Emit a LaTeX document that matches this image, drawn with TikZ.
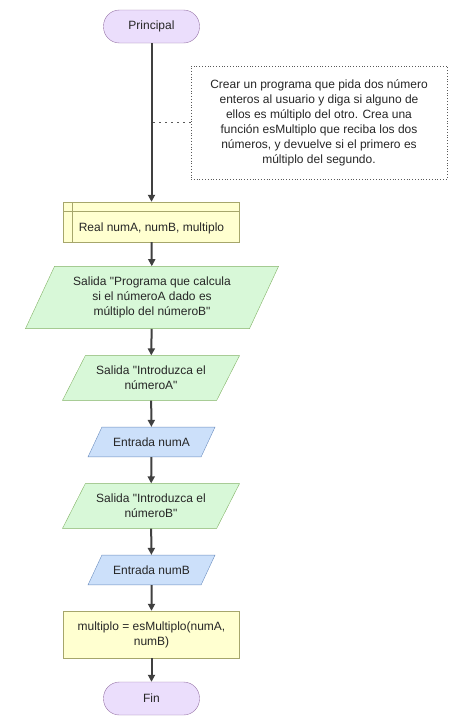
\documentclass[tikz,border=0pt]{standalone}
\usepackage{fontspec}
\setmainfont{Liberation Sans}
\usetikzlibrary{shapes.geometric,arrows.meta}
\definecolor{termfill}{HTML}{EBDEFC}
\definecolor{termline}{HTML}{9673A6}
\definecolor{outfill}{HTML}{D8F8D8}
\definecolor{outline}{HTML}{82B366}
\definecolor{infill}{HTML}{CCE0FA}
\definecolor{inline}{HTML}{6C8EBF}
\definecolor{procfill}{HTML}{FFFFD0}
\definecolor{procline}{HTML}{A6A66B}
\definecolor{flowline}{HTML}{404040}
\begin{document}
\begin{tikzpicture}[x=1pt, y=-1pt,
		every node/.style={font=\fontsize{12}{15}\selectfont, text=black!85, align=center, inner sep=0pt},
		term/.style={draw=termline, fill=termfill, rounded corners=16pt, minimum width=96pt, minimum height=33pt},
		proc/.style={draw=procline, fill=procfill, minimum width=176pt},
		iobox/.style={trapezium, trapezium left angle=#1, trapezium right angle=180-#1, trapezium stretches body=true, inner xsep=0pt, inner ysep=10.5pt},
		outbox/.style={iobox=#1, draw=outline, fill=outfill},
		inbox/.style={iobox=#1, draw=inline, fill=infill},
		flow/.style={->, draw=flowline, line width=2pt},
		>={Triangle[width=7pt,length=7pt]}]
		\useasboundingbox (0,0) rectangle (458,728);

		\node[term] (principal) at (151.5,26.5) {Principal};
		\node[draw=black!65, dotted, line width=0.8pt, minimum width=256pt, minimum height=113pt] (nota) at (319,122.5) {Crear un programa que pida dos número\\enteros al usuario y diga si alguno de\\ellos es múltiplo del otro. Crea una\\función esMultiplo que reciba los dos\\números, y devuelve si el primero es\\múltiplo del segundo.};
		\node[proc, minimum height=40pt, text height=19.5pt, text depth=0pt] (decl) at (151.5,222) {Real numA, numB, multiplo};
		\draw[procline] ([xshift=9pt]decl.north west) -- ([xshift=9pt]decl.south west);
		\draw[procline] ([yshift=-9pt]decl.north west) -- ([yshift=-9pt]decl.north east);

		\node[outbox=65, minimum width=253pt] (salida1) at (152,297.5) {Salida \textquotedbl Programa que calcula\\si el númeroA dado es\\múltiplo del númeroB\textquotedbl};
		\node[outbox=63, minimum width=177pt] (salida2) at (151,378) {Salida \textquotedbl Introduzca el\\númeroA\textquotedbl};
		\node[inbox=65, minimum width=127pt] (entrada1) at (151.5,442) {Entrada numA};
		\node[outbox=63, minimum width=177pt] (salida3) at (151,506) {Salida \textquotedbl Introduzca el\\númeroB\textquotedbl};
		\node[inbox=65, minimum width=127pt] (entrada2) at (151.5,570) {Entrada numB};
		\node[proc, minimum height=47pt] (calculo) at (151.5,634.5) {multiplo = esMultiplo(numA,\\numB)};
		\node[term] (fin) at (151.5,698.5) {Fin};

		\draw[flow] (principal) -- (decl);
		\coordinate (enlace) at (principal.south |- nota.west);
		\draw[black!65, line width=1.5pt, dash pattern=on 1.5pt off 4.5pt] (nota.west) -- (enlace);
		\draw[flow] (decl) -- (salida1);
		\draw[flow] (salida1) -- (salida2);
		\draw[flow] (salida2) -- (entrada1);
		\draw[flow] (entrada1) -- (salida3);
		\draw[flow] (salida3) -- (entrada2);
		\draw[flow] (entrada2) -- (calculo);
		\draw[flow] (calculo) -- (fin);
	\end{tikzpicture}
\end{document}
